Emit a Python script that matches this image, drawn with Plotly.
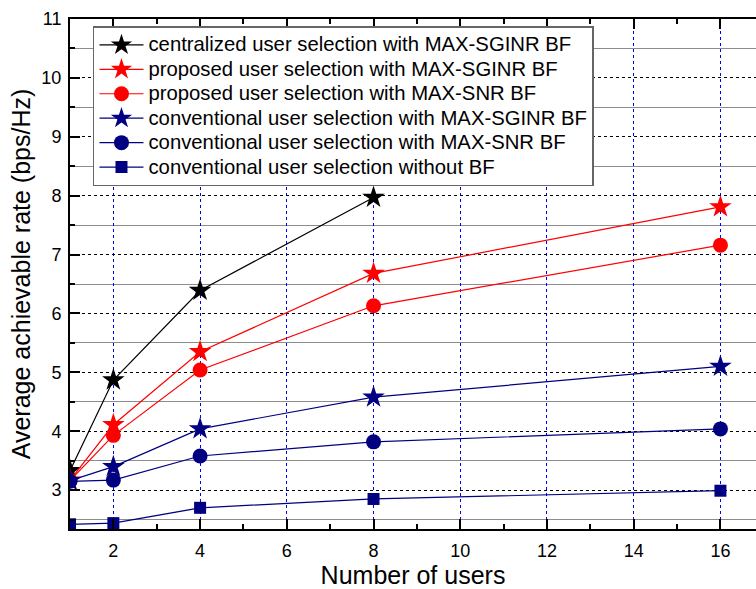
import plotly.graph_objects as go

users = [1, 2, 4, 8, 16]
users_central = [1, 2, 4, 8]
central_sginr = [3.33, 4.87, 6.39, 7.97]
proposed_sginr = [3.17, 4.11, 5.35, 6.68, 7.81]
proposed_snr = [3.16, 3.93, 5.04, 6.13, 7.16]
conv_sginr = [3.16, 3.40, 4.04, 4.58, 5.10]
conv_snr = [3.15, 3.17, 3.58, 3.82, 4.04]
conv_nobf = [2.42, 2.44, 2.70, 2.85, 2.99]

names = [
    "centralized user selection with MAX-SGINR BF",
    "proposed user selection with MAX-SGINR BF",
    "proposed user selection with MAX-SNR BF",
    "conventional user selection with MAX-SGINR BF",
    "conventional user selection with MAX-SNR BF",
    "conventional user selection without BF",
]

NAVY = "#000080"
series = [
    (users_central, central_sginr, "black", "star", 17),
    (users, proposed_sginr, "#ff0000", "star", 17),
    (users, proposed_snr, "#ff0000", "circle", 15),
    (users, conv_sginr, NAVY, "star", 17),
    (users, conv_snr, NAVY, "circle", 15),
    (users, conv_nobf, NAVY, "square", 12),
]

fig = go.Figure()
for name, (xs, ys, col, sym, sz) in zip(names, series):
    fig.add_trace(go.Scatter(
        x=xs, y=ys, name='<span style="font-size:20.3px">' + name + '</span>',
        mode="lines+markers",
        line=dict(color=col, width=1.2),
        marker=dict(color=col, symbol=sym, size=sz, line=dict(width=0)),
        cliponaxis=True,
    ))

FONT = "Liberation Sans, Arial, sans-serif"
fig.update_layout(
    width=756, height=589,
    margin=dict(l=70, r=0, t=19, b=60),
    paper_bgcolor="white", plot_bgcolor="white",
    font=dict(family=FONT, size=18, color="black"),
    showlegend=True,
    legend=dict(
        x=0.0335, y=0.986, xanchor="left", yanchor="top",
        bgcolor="white", bordercolor="#666666", borderwidth=1.5,
        font=dict(family=FONT, size=16.5, color="black"),
        tracegroupgap=0, itemwidth=44,
    ),
)
fig.update_xaxes(
    range=[1, 16.82], tick0=0, dtick=2,
    showline=True, linecolor="black", linewidth=2, mirror="allticks",
    ticks="inside", ticklen=10, tickwidth=2, tickcolor="black",
    showgrid=True, gridcolor="#0000ff", griddash="dot", gridwidth=1,
    minor=dict(dtick=1, ticks="inside", ticklen=5, tickwidth=2, tickcolor="black", showgrid=False),
    zeroline=False,
    tickfont=dict(size=18),
    ticklabelstandoff=4,
    title=dict(text="Number of users", font=dict(size=25), standoff=9),
)
fig.update_yaxes(
    range=[2.34, 11], tick0=0, dtick=1,
    showline=True, linecolor="black", linewidth=2, mirror=False,
    ticks="inside", ticklen=10, tickwidth=2, tickcolor="black",
    showgrid=True, gridcolor="black", griddash="dot", gridwidth=1,
    minor=dict(dtick=0.5, ticks="inside", ticklen=5, tickwidth=2, tickcolor="black",
               showgrid=True, gridcolor="#8c8c8c", griddash="solid", gridwidth=1.3),
    zeroline=False,
    tickfont=dict(size=18),
    ticklabelstandoff=3,
    title=dict(text="Average achievable rate (bps/Hz)", font=dict(size=25), standoff=4),
)

fig.write_html("out.html")
